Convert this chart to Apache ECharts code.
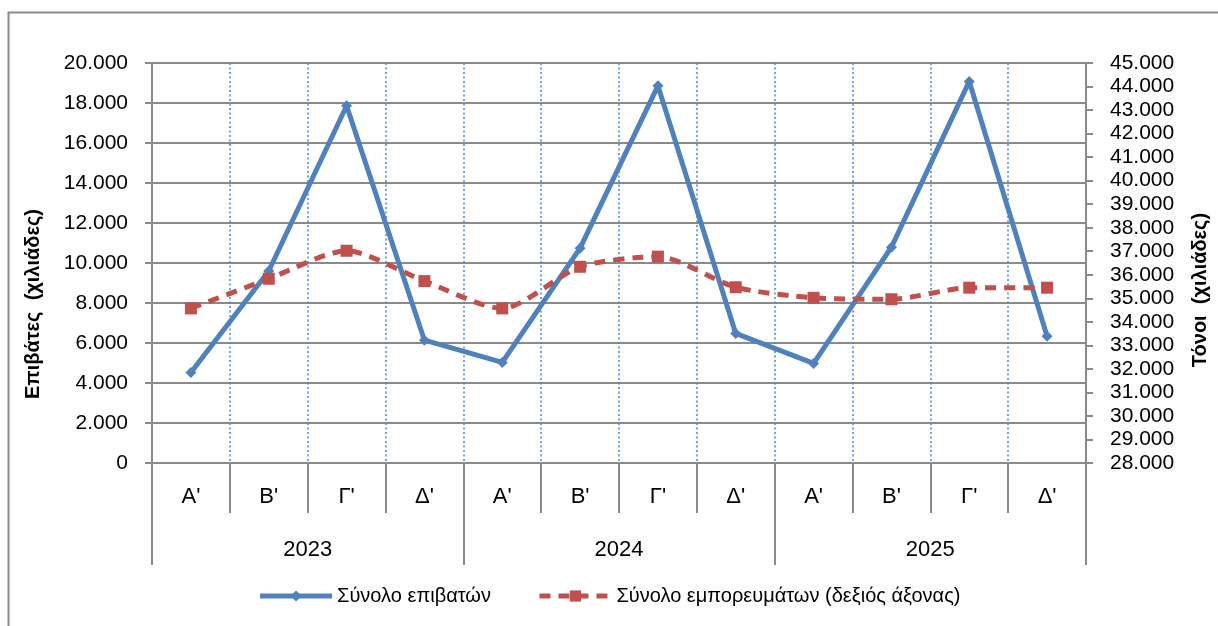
<!DOCTYPE html>
<html>
<head>
<meta charset="utf-8">
<script src="https://cdn.jsdelivr.net/npm/echarts@6/dist/echarts.min.js"></script>
<style>
  html, body { margin: 0; padding: 0; background: #fff; }
  #chart { width: 1218px; height: 626px; }
</style>
</head>
<body>
<div id="chart"></div>
<script>
const quarters = ["Α'", "Β'", "Γ'", "Δ'", "Α'", "Β'", "Γ'", "Δ'", "Α'", "Β'", "Γ'", "Δ'"];
const years = ['2023', '2024', '2025'];
const passengers = [4530, 9600, 17860, 6140, 5030, 10740, 18860, 6480, 4980, 10790, 19080, 6340];
const cargo = [34570, 35830, 37020, 35730, 34570, 36340, 36770, 35470, 35020, 34960, 35450, 35450];
const seriesNames = ['Σύνολο επιβατών', 'Σύνολο εμπορευμάτων (δεξιός άξονας)'];

const font = 'Liberation Sans';
const gray = '#8a8a8a';

function dots(v) {
  return String(v).replace(/\B(?=(\d{3})+(?!\d))/g, '.');
}

const chart = echarts.init(document.getElementById('chart'));

const option = {
  backgroundColor: '#fff',
  animation: false,
  textStyle: { fontFamily: font, color: '#000' },
  graphic: [{
    type: 'rect',
    shape: { x: 8.5, y: 12.5, width: 1400, height: 800 },
    style: { fill: 'none', stroke: gray, lineWidth: 2 },
    silent: true,
    z: -10
  }],
  grid: { left: 152, right: 131, top: 63, bottom: 163 },
  legend: {
    top: 581,
    left: 'center',
    itemWidth: 72,
    itemHeight: 14,
    itemGap: 46,
    lineStyle: { width: 5 },
    textStyle: { fontFamily: font, fontSize: 20, color: '#000' },
    data: seriesNames
  },
  xAxis: [{
    type: 'category',
    data: quarters,
    position: 'bottom',
    boundaryGap: true,
    axisLine: { lineStyle: { color: gray, width: 2 } },
    axisTick: { show: true, interval: 0, length: 50, lineStyle: { color: gray, width: 2 } },
    axisLabel: { interval: 0, margin: 23, fontSize: 22, color: '#000', fontFamily: font },
    splitLine: { show: true, interval: 0, lineStyle: { color: '#4a86d0', width: 1.5, type: [2, 2.5] } }
  }, {
    type: 'category',
    data: years,
    position: 'bottom',
    boundaryGap: true,
    axisLine: { show: false },
    axisTick: { show: true, interval: 0, length: 102, lineStyle: { color: gray, width: 2 } },
    axisLabel: { interval: 0, margin: 76, fontSize: 22, color: '#000', fontFamily: font },
    splitLine: { show: false }
  }],
  yAxis: [{
    type: 'value',
    min: 0,
    max: 20000,
    interval: 2000,
    name: 'Επιβάτες  (χιλιάδες)',
    nameLocation: 'middle',
    nameRotate: 90,
    nameGap: 109,
    nameTextStyle: { fontFamily: font, fontSize: 20, fontWeight: 'bold', color: '#000', padding: [0, 82, 0, 0] },
    axisLine: { show: true, lineStyle: { color: gray, width: 2 } },
    axisTick: { show: true, length: 7, lineStyle: { color: gray, width: 2 } },
    axisLabel: { margin: 24, fontSize: 21, color: '#000', fontFamily: font, formatter: dots },
    splitLine: { show: true, lineStyle: { color: gray, width: 2 } }
  }, {
    type: 'value',
    min: 28000,
    max: 45000,
    interval: 1000,
    position: 'right',
    name: 'Τόνοι  (χιλιάδες)',
    nameLocation: 'middle',
    nameRotate: 90,
    nameGap: 104,
    nameTextStyle: { fontFamily: font, fontSize: 20, fontWeight: 'bold', color: '#000', padding: [0, 54, 0, 0] },
    axisLine: { show: true, lineStyle: { color: gray, width: 2 } },
    axisTick: { show: true, length: 7, lineStyle: { color: gray, width: 2 } },
    axisLabel: { margin: 24, fontSize: 21, color: '#000', fontFamily: font, formatter: dots },
    splitLine: { show: false }
  }],
  series: [{
    name: seriesNames[0],
    type: 'line',
    xAxisIndex: 0,
    yAxisIndex: 0,
    data: passengers,
    symbol: 'diamond',
    symbolSize: 11,
    lineStyle: { color: '#4f81bd', width: 5 },
    itemStyle: { color: '#4f81bd' },
    z: 3
  }, {
    name: seriesNames[1],
    type: 'line',
    xAxisIndex: 0,
    yAxisIndex: 1,
    data: cargo,
    smooth: 0.25,
    symbol: 'rect',
    symbolSize: 12,
    lineStyle: { color: '#c0504d', width: 5, type: [11, 8] },
    itemStyle: { color: '#c0504d' },
    z: 4
  }]
};

chart.setOption(option);
</script>
</body>
</html>
